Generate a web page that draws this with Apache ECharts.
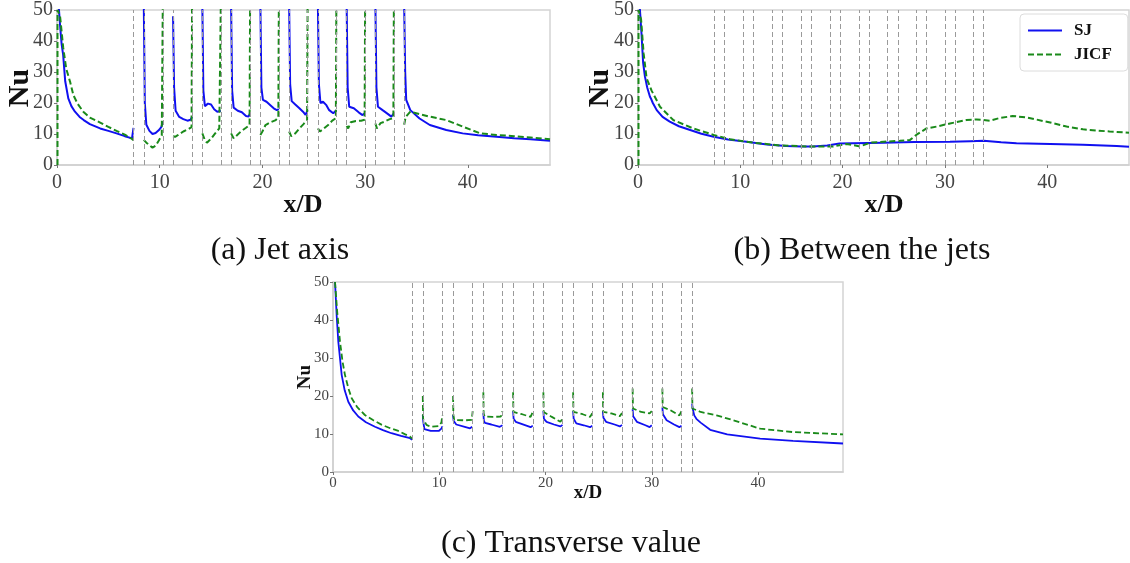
<!DOCTYPE html>
<html>
<head>
<meta charset="utf-8">
<script src="https://cdn.jsdelivr.net/npm/echarts@6/dist/echarts.min.js"></script>
<style>
html,body{margin:0;padding:0;background:#fff;}
#chart{width:1130px;height:563px;}
</style>
</head>
<body>
<div id="chart"></div>
<script>
// ---- data ----
const jetLines = [7.45, 8.45, 10.3, 11.3, 13.15, 14.15, 15.95, 16.95, 18.8, 19.8, 21.6, 22.6, 24.4, 25.4, 27.2, 28.2, 30.0, 31.0, 32.8, 33.8];
const xTicks = [0, 10, 20, 30, 40];
const yTicks = [0, 10, 20, 30, 40, 50];
const captions = ['(a) Jet axis', '(b) Between the jets', '(c) Transverse value'];
const seriesNames = ['SJ', 'JICF'];

// (a) Jet axis
const jetAxisSJ = [
  [0.15,52],[0.3,45],[0.45,39],[0.6,35.5],[0.8,27],[1.1,21.5],[1.4,19],[1.75,17.2],[2.2,15.5],[2.6,14.5],[3.2,13.2],[4.2,11.8],[5,11],[5.8,10.2],[6.6,9.3],[7.3,8.6],[7.42,8.2],[7.45,12],[8,null],
  [8.45,52],[8.55,20],[8.7,13],[9.0,11],[9.3,10],[9.6,10.3],[9.9,11.2],[10.15,12.2],[10.3,14],[10.8,null],
  [11.3,48],[11.4,25],[11.55,17.5],[11.9,15.5],[12.3,14.8],[12.7,14.3],[13.0,14.6],[13.15,15.5],[13.6,null],
  [14.15,52],[14.25,24],[14.4,19],[14.7,19.8],[15.0,19.5],[15.3,18],[15.6,17.2],[15.95,17.5],[16.4,null],
  [16.95,52],[17.05,24],[17.2,18.5],[17.6,17.5],[18.0,17],[18.4,15.8],[18.65,15.6],[18.8,16.7],[19.3,null],
  [19.8,52],[19.9,25],[20.05,21],[20.4,20.4],[20.8,19.2],[21.1,18.3],[21.4,17.7],[21.6,18],[22.1,null],
  [22.6,52],[22.7,26],[22.85,20.6],[23.2,19.5],[23.6,18.3],[23.95,17.2],[24.2,16.2],[24.4,17.7],[24.9,null],
  [25.4,52],[25.5,26],[25.65,20],[25.9,20.4],[26.2,19.4],[26.5,17.7],[26.9,16.7],[27.2,17.7],[27.7,null],
  [28.2,52],[28.3,25],[28.45,18.8],[28.9,18.3],[29.4,16.9],[29.75,16.1],[30.0,16.8],[30.5,null],
  [31.0,52],[31.1,25],[31.25,18.8],[31.7,17.7],[32.2,16.5],[32.55,15.6],[32.8,16.7],[33.3,null],
  [33.8,52],[33.9,30],[34.0,21],[34.4,17.7],[35.3,15],[36.3,12.9],[37.9,11.3],[39.5,10.2],[41,9.6],[42.8,9.1],[44.5,8.6],[46.1,8.3],[48,7.8]
];
const jetAxisJICF = [
  [0.05,0],[0.05,50],[0.3,48],[0.6,38],[0.9,31],[1.27,26.9],[1.6,22.5],[2.0,19.8],[2.56,17.2],[3.2,15.3],[4.2,13.7],[5.0,12.3],[5.8,11],[6.6,9.8],[7.3,8.4],[7.45,8],[8,null],
  [8.45,8.1],[8.7,7.2],[9.0,6.4],[9.3,5.6],[9.6,6.2],[9.9,7.8],[10.2,9.5],[10.3,52],[10.8,null],
  [11.3,9.3],[11.5,9.1],[11.8,9.7],[12.3,10.8],[12.8,11.6],[13.1,12.2],[13.15,52],[13.6,null],
  [14.15,10.2],[14.4,8],[14.6,7.2],[15.0,8.5],[15.4,10.2],[15.8,11.8],[15.95,52],[16.4,null],
  [16.95,10.2],[17.2,8.6],[17.5,9.5],[17.9,10.8],[18.4,12],[18.75,12.9],[18.8,52],[19.3,null],
  [19.8,9.7],[20.0,10.8],[20.3,12.9],[20.8,13.8],[21.3,14.5],[21.55,15.3],[21.6,52],[22.1,null],
  [22.6,10.8],[22.8,9.3],[23.2,10.2],[23.6,11.8],[24.0,13.2],[24.35,14.5],[24.4,52],[24.9,null],
  [25.4,11.8],[25.6,10.8],[26.0,11.8],[26.4,12.9],[26.8,14.3],[27.15,15.1],[27.2,52],[27.7,null],
  [28.2,12.6],[28.35,11.8],[28.6,13.8],[29.1,14.2],[29.6,14.3],[29.95,14.6],[30.0,52],[30.5,null],
  [31.0,13.4],[31.15,11.8],[31.5,13.5],[31.9,14],[32.4,14.8],[32.75,15.1],[32.8,52],[33.3,null],
  [33.8,13],[33.95,15.5],[34.4,17.2],[35.3,16.4],[36.3,15.6],[37.9,14.5],[39.5,12.4],[41.2,10.2],[42.8,9.7],[44.5,9.3],[46.1,8.9],[48,8.3]
];

// (b) Between the jets
const betweenSJ = [
  [0.15,52],[0.35,42],[0.5,33],[0.68,28.5],[0.9,25],[1.17,22],[1.3,21.2],[1.45,20],[1.83,17.7],[2.4,15.5],[3.1,14],[4,12.5],[5.1,11.3],[6.2,10.1],[7.4,9.1],[8.8,8.2],[10.6,7.5],[12.6,6.6],[14.5,6.1],[16,6.0],[17.1,6.0],[18.5,6.3],[19.7,6.9],[21,7.0],[22.5,7.1],[24,7.2],[27,7.4],[30.5,7.5],[32.5,7.7],[33.8,7.8],[35.5,7.3],[37,7.0],[40.3,6.8],[43.5,6.5],[46.8,6.1],[48,5.9]
];
const betweenJICF = [
  [0.05,0],[0.05,50],[0.3,47],[0.55,36],[0.84,28],[1.33,24],[2.15,18.8],[3.45,14.5],[5.4,11.8],[7.4,9.7],[9.0,8.3],[11.3,7.2],[13.9,6.3],[16.5,6.0],[19.1,6.0],[20.4,6.8],[21.7,6.0],[22.7,7.2],[24,7.5],[25.6,7.8],[26.6,8.1],[27.2,9.7],[28.2,11.8],[29.2,12.4],[30.5,13.4],[32.1,14.5],[33.1,14.7],[34.4,14.3],[35.3,15.1],[36.6,15.8],[37.9,15.4],[40.3,13.7],[41.9,12.4],[43.5,11.5],[46.1,10.8],[48,10.4]
];

// (c) Transverse value
const transverseSJ = [
  [0.19,50],[0.35,41],[0.5,34.3],[0.82,25.5],[1.1,21.5],[1.44,18.5],[1.9,16.2],[2.38,14.6],[3.1,13.1],[3.95,11.9],[4.7,11],[5.5,10.2],[6.4,9.5],[7.25,8.9],[7.45,8.5],[8,null],
  [8.45,15],[8.5,13.2],[8.6,11.3],[9.2,10.8],[9.95,10.8],[10.2,11.4],[10.3,12],[10.8,null],
  [11.3,15],[11.35,13.5],[11.6,12.5],[12.4,11.9],[12.9,11.5],[13.1,11.9],[13.6,null],
  [14.15,15.5],[14.2,13.5],[14.3,12.9],[14.9,12.5],[15.7,11.9],[15.95,12.3],[16.4,null],
  [16.95,16],[17.0,14],[17.2,13.2],[18.0,12.4],[18.6,11.8],[18.8,12.2],[19.3,null],
  [19.8,16],[19.85,14],[20.1,13.2],[20.8,12.5],[21.4,12.0],[21.6,12.4],[22.1,null],
  [22.6,16],[22.65,14],[22.9,12.8],[23.6,12.3],[24.2,11.8],[24.4,12.2],[24.9,null],
  [25.4,16],[25.45,14.3],[25.7,13.2],[26.5,12.5],[27.0,12.0],[27.2,12.4],[27.7,null],
  [28.2,16.5],[28.25,14.7],[28.6,13.2],[29.4,12.3],[29.8,11.8],[30.0,12.3],[30.5,null],
  [31.0,17],[31.05,15.2],[31.4,13.6],[32.1,12.5],[32.6,11.8],[32.8,12.2],[33.3,null],
  [33.8,18],[33.85,16.7],[34.0,14.9],[34.2,14.0],[34.6,13.0],[35.5,11.1],[37.1,9.9],[40.2,8.8],[43.3,8.2],[48,7.5]
];
const transverseJICF = [
  [0.19,50],[0.4,42],[0.66,34.3],[0.9,29],[1.13,25.5],[1.45,22],[1.76,19.4],[2.3,17],[3.0,15],[3.8,13.6],[4.6,12.4],[5.4,11.5],[6.15,10.8],[6.8,9.9],[7.25,9.3],[7.45,8.8],[8,null],
  [8.45,20],[8.48,14],[8.8,12.4],[9.2,11.9],[9.95,12.1],[10.2,13],[10.3,15],[10.8,null],
  [11.3,20],[11.33,15],[11.4,13.7],[12.4,13.6],[13.05,13.7],[13.15,16],[13.6,null],
  [14.15,21],[14.18,15.2],[14.3,14.6],[15.0,14.5],[15.8,14.6],[15.95,16],[16.4,null],
  [16.95,21],[16.98,15.8],[17.8,15.2],[18.6,14.5],[18.8,15.8],[19.3,null],
  [19.8,21],[19.83,15.8],[20.6,14.5],[21.4,13.2],[21.6,14],[22.1,null],
  [22.6,21],[22.63,15.8],[23.5,15.2],[24.2,14.5],[24.4,15.5],[24.9,null],
  [25.4,21],[25.43,15.8],[26.2,15.4],[27.0,14.7],[27.2,15.5],[27.7,null],
  [28.2,22],[28.23,16.7],[29.0,15.8],[29.8,15.4],[30.0,16],[30.5,null],
  [31.0,22],[31.03,17.1],[31.8,16.2],[32.6,14.9],[32.8,16],[33.3,null],
  [33.8,22],[33.83,16.7],[34.6,15.8],[36.1,14.9],[37.7,13.6],[40.2,11.4],[43.3,10.5],[48,9.9]
];

// ---- chart ----
const SERIF = '"Liberation Serif", "DejaVu Serif", serif';
const BLUE = '#1010f0';
const GREEN = '#1a8a1a';
const chart = echarts.init(document.getElementById('chart'), null, {renderer: 'canvas'});

const grids = [
  {left: 57, top: 10, width: 493, height: 155, show: true, borderColor: '#d4d4d4', borderWidth: 1.5},
  {left: 638, top: 10, width: 491, height: 155, show: true, borderColor: '#d4d4d4', borderWidth: 1.5},
  {left: 333, top: 282, width: 510, height: 190, show: true, borderColor: '#d4d4d4', borderWidth: 1.5}
];
const labelSizes = [20, 20, 15];

function xAxisFor(i) {
  return {
    gridIndex: i, type: 'value', min: 0, max: 48, interval: 10,
    axisLine: {show: true, lineStyle: {color: '#cfcfcf', width: 1.5}},
    axisTick: {show: true, length: 3, lineStyle: {color: '#777'}},
    splitLine: {show: false},
    axisLabel: {
      fontFamily: SERIF, fontSize: labelSizes[i], color: '#444', margin: i === 2 ? 4 : 8,
      showMaxLabel: false,
      formatter: v => (xTicks.indexOf(v) >= 0 ? String(v) : '')
    }
  };
}
function yAxisFor(i) {
  return {
    gridIndex: i, type: 'value', min: 0, max: 50, interval: 10,
    axisLine: {show: true, lineStyle: {color: '#cfcfcf', width: 1.5}},
    axisTick: {show: true, length: 3, lineStyle: {color: '#777'}},
    splitLine: {show: false},
    axisLabel: {
      fontFamily: SERIF, fontSize: labelSizes[i], color: '#444', margin: 4,
      formatter: v => (yTicks.indexOf(v) >= 0 ? String(v) : '')
    }
  };
}

const panelData = [
  [jetAxisSJ, jetAxisJICF],
  [betweenSJ, betweenJICF],
  [transverseSJ, transverseJICF]
];
const widths = [[2, 2], [2, 2], [1.8, 1.8]];

const series = [];
panelData.forEach((pair, i) => {
  series.push({
    type: 'line', name: seriesNames[0], xAxisIndex: i, yAxisIndex: i,
    data: pair[0], symbol: 'none', showSymbol: false, connectNulls: false, clip: true,
    lineStyle: {color: BLUE, width: widths[i][0]}, itemStyle: {color: BLUE},
    z: 3,
    markLine: {
      silent: true, symbol: 'none', animation: false,
      label: {show: false},
      lineStyle: {color: '#9a9a9a', width: 1, type: [5, 3]},
      emphasis: {disabled: true},
      data: jetLines.map(v => ({xAxis: v}))
    }
  });
  series.push({
    type: 'line', name: seriesNames[1], xAxisIndex: i, yAxisIndex: i,
    data: pair[1], symbol: 'none', showSymbol: false, connectNulls: false, clip: true,
    lineStyle: {color: GREEN, width: widths[i][1], type: [6, 3]}, itemStyle: {color: GREEN},
    z: 4
  });
});

function txt(text, x, y, font, rot) {
  return {
    type: 'text', x: x, y: y, rotation: rot || 0, silent: true,
    style: {text: text, font: font, fill: '#111', align: 'center', verticalAlign: 'middle',
            textAlign: 'center', textVerticalAlign: 'middle'}
  };
}

const option = {
  animation: false,
  backgroundColor: '#fff',
  grid: grids,
  xAxis: [0, 1, 2].map(xAxisFor),
  yAxis: [0, 1, 2].map(yAxisFor),
  legend: {
    show: true, data: seriesNames, orient: 'vertical',
    left: 1020, top: 14,
    itemWidth: 34, itemHeight: 14, itemGap: 7,
    padding: [8, 16, 8, 7],
    itemStyle: {color: 'rgba(0,0,0,0)', borderWidth: 0, opacity: 0},
    backgroundColor: '#fff', borderColor: '#dcdcdc', borderWidth: 1, borderRadius: 4,
    textStyle: {fontFamily: SERIF, fontWeight: 'bold', fontSize: 17, color: '#111', padding: [0, 0, 0, 7]}
  },
  series: series,
  graphic: [
    txt('Nu', 20, 88, 'bold 30px ' + SERIF, Math.PI / 2),
    txt('x/D', 303, 205, 'bold 26px ' + SERIF),
    txt('Nu', 600, 88, 'bold 30px ' + SERIF, Math.PI / 2),
    txt('x/D', 884, 205, 'bold 26px ' + SERIF),
    txt('Nu', 305, 377, 'bold 19px ' + SERIF, Math.PI / 2),
    txt('x/D', 588, 493, 'bold 19px ' + SERIF),
    txt(captions[0], 280, 251, '32px ' + SERIF),
    txt(captions[1], 862, 251, '32px ' + SERIF),
    txt(captions[2], 571, 544, '32px ' + SERIF)
  ]
};
chart.setOption(option);
</script>
</body>
</html>
